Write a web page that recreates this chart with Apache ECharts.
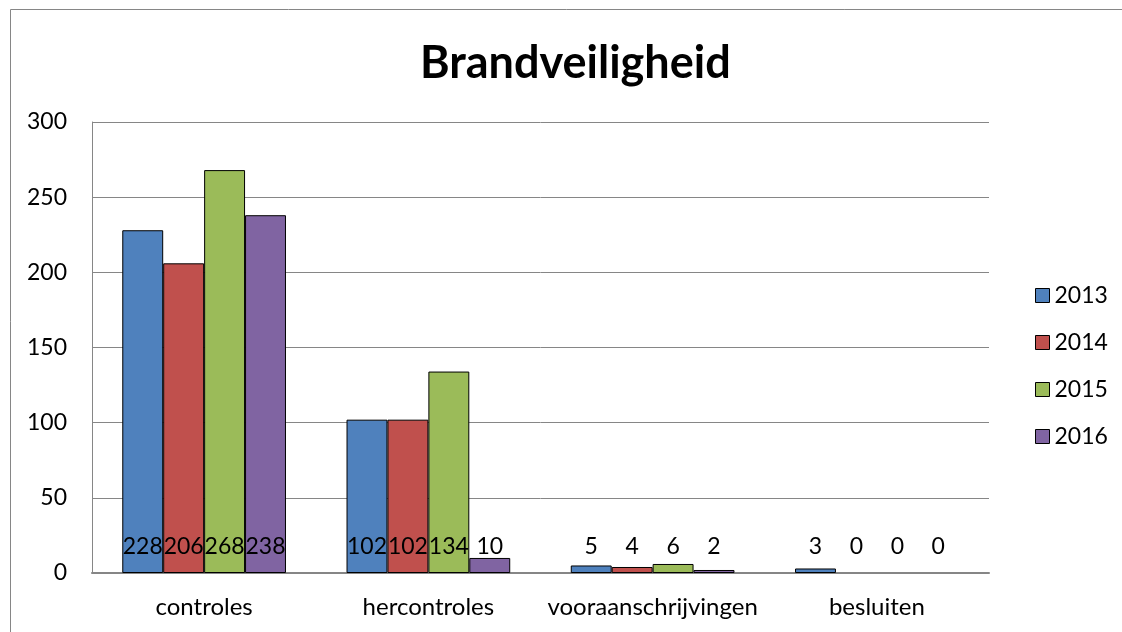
<!DOCTYPE html>
<html>
<head>
<meta charset="utf-8">
<script src="https://cdn.jsdelivr.net/npm/echarts@6/dist/echarts.min.js"></script>
<style>
    html, body { margin: 0; padding: 0; background: #fff; }
    #main { width: 1122px; height: 632px; }
</style>
</head>
<body>
<div id="main"></div>
<script>
var categories = ['controles', 'hercontroles', 'vooraanschrijvingen', 'besluiten'];
var years = ['2013', '2014', '2015', '2016'];
var data2013 = [228, 102, 5, 3];
var data2014 = [206, 102, 4, 0];
var data2015 = [268, 134, 6, 0];
var data2016 = [238, 10, 2, 0];
var colors = ['#4F81BD', '#C0504D', '#9BBB59', '#8064A2'];

var chart = echarts.init(document.getElementById('main'));
var font = 'Lato, "Open Sans", sans-serif';

function makeSeries(name, values, color) {
    return {
        name: name,
        type: 'bar',
        // zero bars have no visible outline in the original
        data: values.map(function (v) {
            return v === 0 ? {value: v, itemStyle: {borderWidth: 0}} : v;
        }),
        barGap: '0%',
        barCategoryGap: '27%',
        itemStyle: {
            color: color,
            borderColor: '#000',
            borderWidth: 1
        },
        label: {
            show: true,
            position: 'insideBottom',
            distance: 15,
            color: '#000',
            fontSize: 23,
            fontFamily: font
        }
    };
}

var option = {
    animation: false,
    color: colors,
    graphic: [{
        type: 'rect',
        shape: { x: 10.5, y: 9.5, width: 1200, height: 700 },
        style: { fill: 'none', stroke: '#868686', lineWidth: 1 },
        silent: true
    }],
    title: {
        text: 'Brandveiligheid',
        left: 415,
        top: 36,
        textStyle: {
            fontSize: 45,
            fontWeight: 'bold',
            color: '#000',
            fontFamily: font
        }
    },
    legend: {
        data: years,
        orient: 'vertical',
        left: 1030,
        top: 279,
        itemWidth: 14,
        itemHeight: 14,
        itemGap: 24,
        icon: 'rect',
        itemStyle: { borderColor: '#000', borderWidth: 1 },
        textStyle: { fontSize: 23, color: '#000', fontFamily: font }
    },
    grid: {
        left: 92,
        right: 133,
        top: 122,
        bottom: 59,
        containLabel: false
    },
    xAxis: {
        type: 'category',
        data: categories,
        axisLine: { lineStyle: { color: '#868686', width: 2 } },
        axisTick: { show: false },
        axisLabel: { color: '#000', fontSize: 24, fontFamily: font, margin: 22, interval: 0 }
    },
    yAxis: {
        type: 'value',
        min: 0,
        max: 300,
        interval: 50,
        axisLine: { show: true, lineStyle: { color: '#868686', width: 1 } },
        axisTick: { show: false },
        splitLine: { lineStyle: { color: '#868686', width: 1 } },
        axisLabel: { color: '#000', fontSize: 23, fontFamily: font, margin: 25 }
    },
    series: [
        makeSeries('2013', data2013, colors[0]),
        makeSeries('2014', data2014, colors[1]),
        makeSeries('2015', data2015, colors[2]),
        makeSeries('2016', data2016, colors[3])
    ]
};

chart.setOption(option);
</script>
</body>
</html>
